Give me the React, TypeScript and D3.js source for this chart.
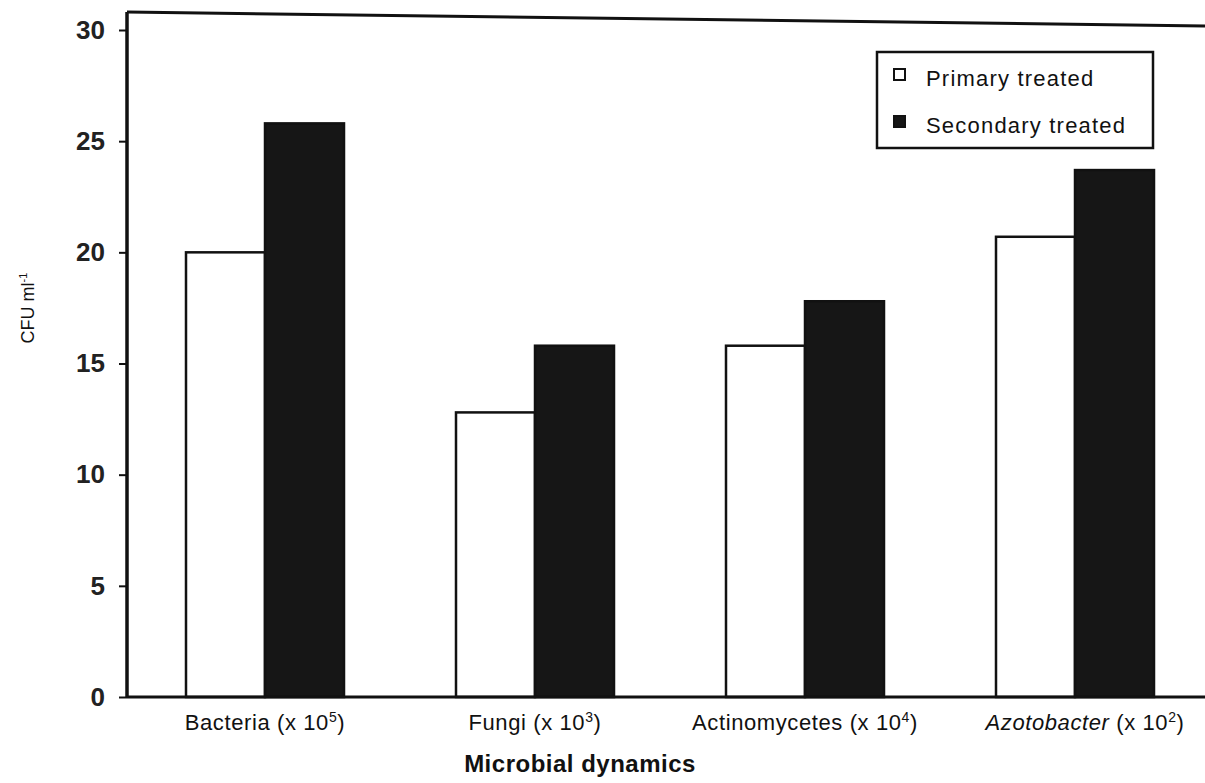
import React, { useEffect, useRef } from "react";
import * as d3 from "d3";

// categories and series
const categories = ["Bacteria", "Fungi", "Actinomycetes", "Azotobacter"];
const categoryExponents = ["5", "3", "4", "2"];
const seriesNames = ["Primary treated", "Secondary treated"];
const primaryValues = [20.0, 12.8, 15.8, 20.7];
const secondaryValues = [25.8, 15.8, 17.8, 23.7];
const yTicks = [0, 5, 10, 15, 20, 25, 30];

const W = 1205;
const H = 783;

const App: React.FC = () => {
  const svgRef = useRef<SVGSVGElement>(null);

  useEffect(() => {
    const svg = d3.select(svgRef.current);
    svg.selectAll("*").remove();

    const font = "'Liberation Sans', Arial, sans-serif";
    const left = 127;
    const bottom = 697;

    const y = d3.scaleLinear().domain([0, 30]).range([bottom, 30]);
    const x0 = d3.scaleBand<string>().domain(categories).range([130, 1210]).padding(0);
    const groupW = 158;
    const x1 = d3.scaleBand<string>().domain(seriesNames).range([0, groupW]).padding(0);

    const rows = categories.map((c, i) => ({
      cat: c,
      values: [primaryValues[i], secondaryValues[i]],
    }));

    // bars
    const g = svg.append("g");
    rows.forEach((r) => {
      const gx = (x0(r.cat) as number) + x0.bandwidth() / 2 - groupW / 2;
      r.values.forEach((v, j) => {
        const s = seriesNames[j];
        g.append("rect")
          .attr("x", gx + (x1(s) as number))
          .attr("y", y(v))
          .attr("width", x1.bandwidth())
          .attr("height", bottom - y(v))
          .attr("fill", j === 0 ? "#fff" : "#161616")
          .attr("stroke", "#111")
          .attr("stroke-width", 2.5);
      });
    });

    // frame: left line, slanted top line, bottom axis
    svg.append("line").attr("x1", left).attr("y1", 12).attr("x2", left).attr("y2", bottom)
      .attr("stroke", "#111").attr("stroke-width", 3.5);
    svg.append("line").attr("x1", left).attr("y1", 12).attr("x2", W).attr("y2", 26)
      .attr("stroke", "#111").attr("stroke-width", 3);
    svg.append("line").attr("x1", left).attr("y1", bottom).attr("x2", W).attr("y2", bottom)
      .attr("stroke", "#111").attr("stroke-width", 3);

    // y axis
    const yAxis = d3.axisLeft(y).tickValues(yTicks).tickSize(8).tickPadding(14);
    const ya = svg.append("g").attr("transform", `translate(${left},0)`).call(yAxis);
    ya.select(".domain").remove();
    ya.selectAll("line").attr("stroke", "#111").attr("stroke-width", 2);
    ya.selectAll("text")
      .attr("font-family", font)
      .attr("font-size", 26)
      .attr("font-weight", "bold")
      .attr("fill", "#222");

    // category labels
    rows.forEach((r, i) => {
      const cx = (x0(r.cat) as number) + x0.bandwidth() / 2;
      const t = svg.append("text")
        .attr("x", cx + (i === 3 ? 10 : 0))
        .attr("y", 730)
        .attr("text-anchor", "middle")
        .attr("font-family", font)
        .attr("font-size", 22)
        .attr("letter-spacing", 0.6)
        .attr("fill", "#111");
      t.append("tspan").attr("font-style", i === 3 ? "italic" : "normal").text(r.cat);
      t.append("tspan").text(" (x 10");
      t.append("tspan").attr("font-size", 14).attr("dy", -8).text(categoryExponents[i]);
      t.append("tspan").attr("dy", 8).text(")");
    });

    // axis titles
    svg.append("text")
      .attr("x", 580).attr("y", 772)
      .attr("text-anchor", "middle")
      .attr("font-family", font)
      .attr("font-size", 24)
      .attr("font-weight", "bold")
      .attr("letter-spacing", 0.5)
      .attr("fill", "#111")
      .text("Microbial dynamics");

    const yl = svg.append("text")
      .attr("transform", "translate(34,308) rotate(-90)")
      .attr("text-anchor", "middle")
      .attr("font-family", font)
      .attr("font-size", 18)
      .attr("fill", "#111");
    yl.append("tspan").text("CFU ml");
    yl.append("tspan").attr("font-size", 11).attr("dy", -7).text("-1");

    // legend
    const lg = svg.append("g");
    lg.append("rect").attr("x", 877).attr("y", 52).attr("width", 276).attr("height", 96)
      .attr("fill", "#fff").attr("stroke", "#111").attr("stroke-width", 2.5);
    seriesNames.forEach((s, j) => {
      const ly = 78 + j * 47;
      lg.append("rect").attr("x", 894).attr("y", ly - 9).attr("width", 11).attr("height", 11)
        .attr("fill", j === 0 ? "#fff" : "#161616").attr("stroke", "#111").attr("stroke-width", 2);
      lg.append("text").attr("x", 926).attr("y", ly + 8)
        .attr("font-family", font).attr("font-size", 22).attr("letter-spacing", 1.2)
        .attr("fill", "#111").text(s);
    });

    return () => {
      svg.selectAll("*").remove();
    };
  }, []);

  return (
    <svg ref={svgRef} width={W} height={H}
      style={{ position: "absolute", left: 0, top: 0, background: "#fff" }} />
  );
};

export default App;
